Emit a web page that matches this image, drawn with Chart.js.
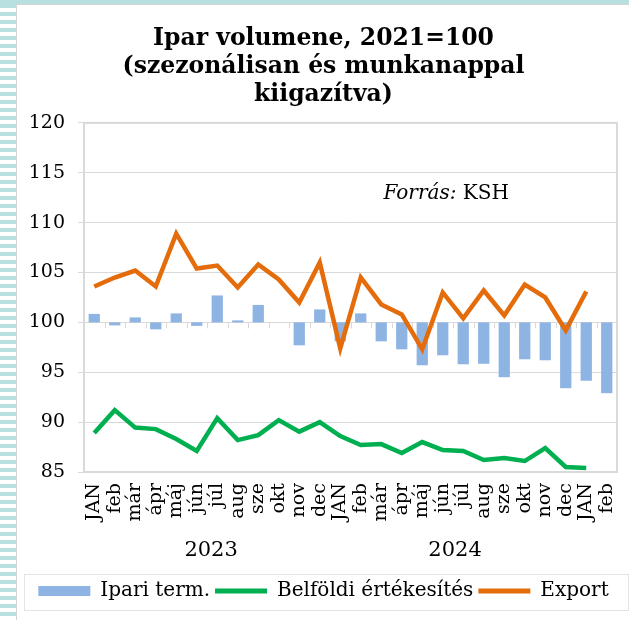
<!DOCTYPE html>
<html>
<head>
<meta charset="utf-8">
<script src="https://cdn.jsdelivr.net/npm/chart.js@4.4.1/dist/chart.umd.min.js"></script>
<style>
  html, body { margin: 0; padding: 0; background: #fff; }
  body { width: 629px; height: 620px; position: relative; overflow: hidden; }
  #topstrip { position: absolute; left: 0; top: 0; width: 629px; height: 4px; background: #b9e0e0; }
  #leftstrip { position: absolute; left: 0; top: 4px; width: 16px; height: 616px;
    background: repeating-linear-gradient(to bottom, #b9e0e0 0 4px, #fff 4px 8px); }
  #panel { position: absolute; left: 16px; top: 4px; width: 613px; height: 616px;
    border-left: 1px solid #d4d4d4; border-top: 1px solid #d4d4d4; box-sizing: border-box; }
  #wrap { position: absolute; left: 17px; top: 5px; width: 612px; height: 615px; }
</style>
</head>
<body>
<div id="topstrip"></div>
<div id="leftstrip"></div>
<div id="panel"></div>
<div id="wrap"><canvas id="chart"></canvas></div>
<script>
// === adatok (KSH) ===
const HONAPOK = ['JAN', 'feb', 'már', 'ápr', 'máj', 'jún', 'júl', 'aug', 'sze', 'okt', 'nov', 'dec',
                 'JAN', 'feb', 'már', 'ápr', 'máj', 'jún', 'júl', 'aug', 'sze', 'okt', 'nov', 'dec',
                 'JAN', 'feb'];
const EVEK = ['2023', '2024'];
const EV_KOZEP = [5.7, 17.6]; // kategória-index, ahol az év felirata áll

const IPARI = [100.85, 99.7, 100.5, 99.3, 100.9, 99.65, 102.7, 100.2, 101.75, 100.0, 97.7, 101.3,
               98.1, 100.9, 98.1, 97.3, 95.7, 96.7, 95.8, 95.85, 94.5, 96.3, 96.2, 93.4,
               94.15, 92.9];
const BELFOLDI = [88.9, 91.2, 89.45, 89.3, 88.3, 87.1, 90.4, 88.2, 88.7, 90.2, 89.05, 90.0,
                  88.6, 87.7, 87.8, 86.9, 88.0, 87.2, 87.1, 86.2, 86.4, 86.1, 87.4, 85.5,
                  85.4, null];
const EXPORT = [103.6, 104.5, 105.2, 103.6, 108.9, 105.4, 105.7, 103.5, 105.8, 104.3, 102.0, 106.0,
                97.4, 104.5, 101.8, 100.8, 97.3, 103.0, 100.4, 103.2, 100.7, 103.8, 102.5, 99.2,
                103.1, null];
const BAZIS = 100;

const SERIF = "'DejaVu Serif', serif";
const GRID = '#d9d9d9';

// ---- saját rajzolás: keret, x-tengely jelölők, évek, forrás, jelmagyarázat doboz ----
const extras = {
  id: 'extras',
  beforeDatasetsDraw(chart) {
    const { ctx, scales: { x, y } } = chart;
    const y0 = y.getPixelForValue(BAZIS);
    ctx.save();
    ctx.strokeStyle = GRID;
    ctx.lineWidth = 1;
    for (let i = 1; i < HONAPOK.length; i++) {
      const px = Math.round(x.getPixelForValue(i - 0.5)) + 0.5;
      ctx.beginPath();
      ctx.moveTo(px, y0);
      ctx.lineTo(px, y0 + 6);
      ctx.stroke();
    }
    ctx.restore();
  },
  afterDraw(chart) {
    const { ctx, chartArea: a, scales: { x } } = chart;
    ctx.save();
    // plot keret
    ctx.strokeStyle = GRID;
    ctx.lineWidth = 2;
    ctx.strokeRect(a.left, a.top, a.right - a.left, a.bottom - a.top);

    // évek
    ctx.fillStyle = '#000';
    ctx.font = '21px ' + SERIF;
    ctx.textAlign = 'center';
    ctx.textBaseline = 'middle';
    EVEK.forEach((ev, i) => {
      ctx.fillText(ev, x.getPixelForValue(EV_KOZEP[i]), a.bottom + 79);
    });

    // forrás
    ctx.textAlign = 'left';
    ctx.textBaseline = 'alphabetic';
    const fx = a.left + (a.right - a.left) * 0.562;
    const fy = a.top + 76;
    ctx.font = 'italic 20px ' + SERIF;
    const w = ctx.measureText('Forrás:').width;
    ctx.fillText('Forrás:', fx, fy);
    ctx.font = '20px ' + SERIF;
    ctx.fillText(' KSH', fx + w, fy);

    // jelmagyarázat doboz
    const lg = chart.legend;
    ctx.strokeStyle = '#e3e3e3';
    ctx.lineWidth = 1;
    ctx.strokeRect(7.5, lg.top - 1.5, chart.width - 8, lg.height + 1);
    ctx.restore();
  }
};

const ctx = document.getElementById('chart').getContext('2d');
new Chart(ctx, {
  data: {
    labels: HONAPOK,
    datasets: [
      {
        type: 'bar',
        label: 'Ipari term.',
        data: IPARI.map(v => [BAZIS, v]),
        backgroundColor: '#8db4e2',
        borderWidth: 0,
        barPercentage: 0.55,
        categoryPercentage: 1,
        order: 1
      },
      {
        type: 'line',
        label: 'Belföldi értékesítés',
        data: BELFOLDI,
        borderColor: '#00b050',
        backgroundColor: '#00b050',
        borderWidth: 4.5,
        pointRadius: 0,
        tension: 0,
        order: 0
      },
      {
        type: 'line',
        label: 'Export',
        data: EXPORT,
        borderColor: '#e46c0a',
        backgroundColor: '#e46c0a',
        borderWidth: 4.5,
        pointRadius: 0,
        tension: 0,
        order: 0
      }
    ]
  },
  options: {
    responsive: true,
    maintainAspectRatio: false,
    animation: false,
    layout: { padding: { left: 13, right: 12, top: 0, bottom: 9 } },
    plugins: {
      title: {
        display: true,
        text: ['Ipar volumene, 2021=100', '(szezonálisan és munkanappal', 'kiigazítva)'],
        color: '#000',
        font: { family: SERIF, size: 23.5, weight: 'bold', lineHeight: 1.19 },
        padding: { top: 20, bottom: 14 }
      },
      legend: {
        position: 'bottom',
        labels: {
          color: '#000',
          font: { family: SERIF, size: 20 },
          usePointStyle: true,
          pointStyleWidth: 52,
          boxHeight: 10,
          padding: 5,
          sort: (a, b) => a.datasetIndex - b.datasetIndex,
          generateLabels(chart) {
            return chart.data.datasets.map((ds, i) => ({
              text: ds.label,
              datasetIndex: i,
              fillStyle: ds.backgroundColor,
              strokeStyle: ds.type === 'line' ? ds.borderColor : ds.backgroundColor,
              lineWidth: ds.type === 'line' ? 5 : 0,
              pointStyle: ds.type === 'line' ? 'line' : 'rect',
              fontColor: '#000',
              hidden: false
            }));
          }
        }
      },
      tooltip: { enabled: false }
    },
    scales: {
      x: {
        grid: { display: false, drawTicks: false },
        border: { display: false },
        ticks: {
          color: '#000',
          font: { family: SERIF, size: 19 },
          minRotation: 90,
          maxRotation: 90,
          autoSkip: false,
          padding: 11
        },
        afterFit(s) {
          s.height = 104;
          s.paddingLeft = 0;
          s.paddingRight = 0;
        }
      },
      y: {
        min: 85,
        max: 120,
        grid: { color: GRID, lineWidth: 1, tickLength: 6, tickColor: GRID },
        border: { display: false },
        ticks: {
          stepSize: 5,
          color: '#000',
          font: { family: SERIF, size: 19 },
          padding: 13
        },
        afterFit(s) {
          s.width = 54;
          s.paddingTop = 0;
          s.paddingBottom = 0;
        }
      }
    }
  },
  plugins: [extras]
});
</script>
</body>
</html>
